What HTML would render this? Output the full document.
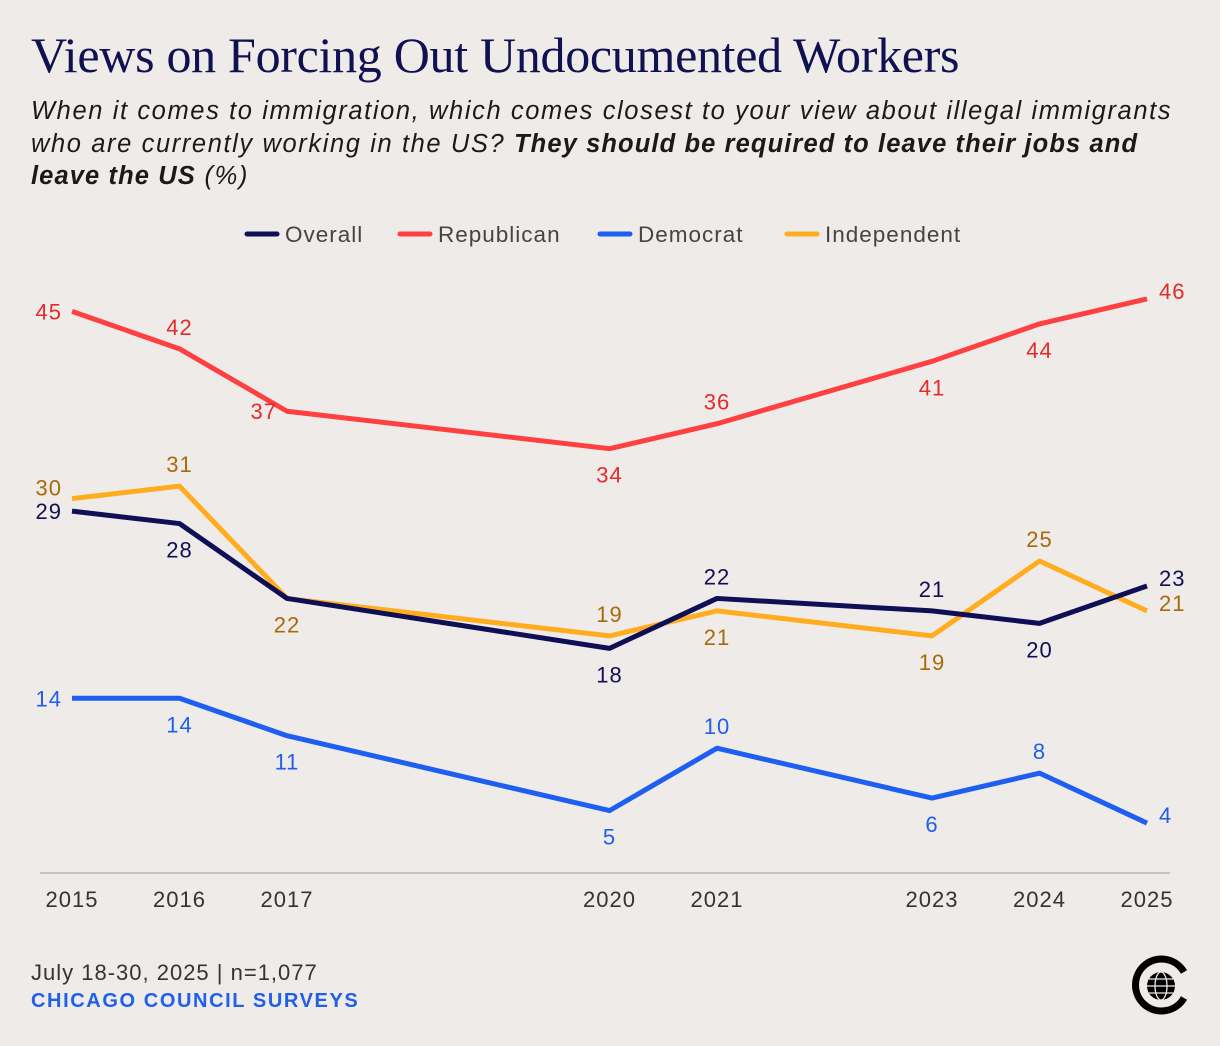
<!DOCTYPE html>
<html><head><meta charset="utf-8"><style>
html,body{margin:0;padding:0;background:#efebe8;}
body{width:1220px;height:1046px;position:relative;overflow:hidden;font-family:"Liberation Sans",sans-serif;}
.t{position:absolute;left:31px;top:26px;font-family:"Liberation Serif",serif;font-size:50px;color:#0f1150;letter-spacing:-0.3px;}
.s{position:absolute;left:31px;top:95px;width:1180px;white-space:nowrap;font-style:italic;font-size:25.5px;line-height:32.5px;color:#1a1a1a;letter-spacing:1.6px;}
.f1{position:absolute;left:31px;top:960px;font-size:22px;color:#333;letter-spacing:1px;}
.f2{position:absolute;left:31px;top:990px;font-size:20px;font-weight:bold;color:#2060e8;letter-spacing:1.6px;}
svg{position:absolute;left:0;top:0;}
svg text{letter-spacing:1px;}
</style></head><body>
<div class="t">Views on Forcing Out Undocumented Workers</div>
<div class="s">When it comes to immigration, which comes closest to your view about illegal immigrants<br>who are currently working in the US? <b style="letter-spacing:1.1px">They should be required to leave their jobs and<br>leave the US</b> (%)</div>
<div class="f1">July 18-30, 2025 | n=1,077</div>
<div class="f2">CHICAGO COUNCIL SURVEYS</div>
<svg id="c" width="1220" height="1046"></svg>
<script>
const years=[2015,2016,2017,2020,2021,2023,2024,2025];
const overall=[29,28,22,18,22,21,20,23];
const republican=[45,42,37,34,36,41,44,46];
const democrat=[14,14,11,5,10,6,8,4];
const independent=[30,31,22,19,21,19,25,21];
const seriesNames=["Overall","Republican","Democrat","Independent"];
const NS="http://www.w3.org/2000/svg";
const svg=document.getElementById('c');
const x=y=>72+(y-2015)*107.5;
const yv=v=>873-v*12.48;
function mk(tag,attrs,txt){const e=document.createElementNS(NS,tag);for(const k in attrs)e.setAttribute(k,attrs[k]);if(txt!==undefined)e.textContent=txt;svg.appendChild(e);return e;}
const ax=mk('line',{x1:40,x2:1170,y1:873,y2:873,stroke:'#c8c4c0','stroke-width':2});


years.forEach(yr=>{const t=mk('text',{x:x(yr),y:907,'text-anchor':'middle','font-size':22,fill:'#333','font-family':'Liberation Sans, sans-serif'},yr);

});
const S=[
 {name:'republican',d:republican,c:'#ff4040',lc:'#e52a2a',pos:['L','A','L','B','A','B','B','R']},
 {name:'independent',d:independent,c:'#ffad1f',lc:'#a8690a',pos:['LA','A','B','A','B','B','A','R']},
 {name:'overall',d:overall,c:'#0f0f55',lc:'#0f0f55',pos:['L','B','N','B','A','A','B','R']},
 {name:'democrat',d:democrat,c:'#1e5ef0',lc:'#1e5ef0',pos:['L','B','B','B','A','B','A','R']}
];
S.forEach(s=>{
 const p=mk('polyline',{points:s.d.map((v,i)=>x(years[i])+','+yv(v)).join(' '),fill:'none',stroke:s.c,'stroke-width':5,'stroke-linejoin':'round'});
 
 
 s.d.forEach((v,i)=>{
  const ps=s.pos[i]; if(ps==='N')return;
  let px=x(years[i]),py=yv(v)+8,a='middle';
  if(ps==='A')py-=22;if(ps==='B')py+=26;
  if(ps==='L'){px-=10;a='end';}
  if(ps==='LA'){px-=10;a='end';py-=11;}
  if(ps==='R'){px+=12;a='start';py-=8;}
  const t=mk('text',{x:px,y:py,'text-anchor':a,'font-size':22,fill:s.lc,'font-family':'Liberation Sans, sans-serif'},v);
  
  
 });
});
const leg=[['Overall','#0f0f55',247],['Republican','#ff4040',400],['Democrat','#1e5ef0',600],['Independent','#ffad1f',787]];
leg.forEach(l=>{
 const ln=mk('line',{x1:l[2],x2:l[2]+30,y1:234,y2:234,stroke:l[1],'stroke-width':5,'stroke-linecap':'round'});
 
 
 const t=mk('text',{x:l[2]+38,y:242,'font-size':22.5,fill:'#444','font-family':'Liberation Sans, sans-serif'},l[0]);
 
 
});
const g=mk('g',{});


g.innerHTML='<path d="M1184 972 A26 26 0 1 0 1184 998" fill="none" stroke="#000" stroke-width="7"/><circle cx="1161" cy="986" r="14" fill="#000"/><g fill="none" stroke="#efebe8" stroke-width="1.3"><ellipse cx="1161" cy="986" rx="6" ry="14"/><line x1="1147" y1="986" x2="1175" y2="986"/><line x1="1149" y1="979" x2="1173" y2="979"/><line x1="1149" y1="993" x2="1173" y2="993"/></g>';
</script>
</body></html>
